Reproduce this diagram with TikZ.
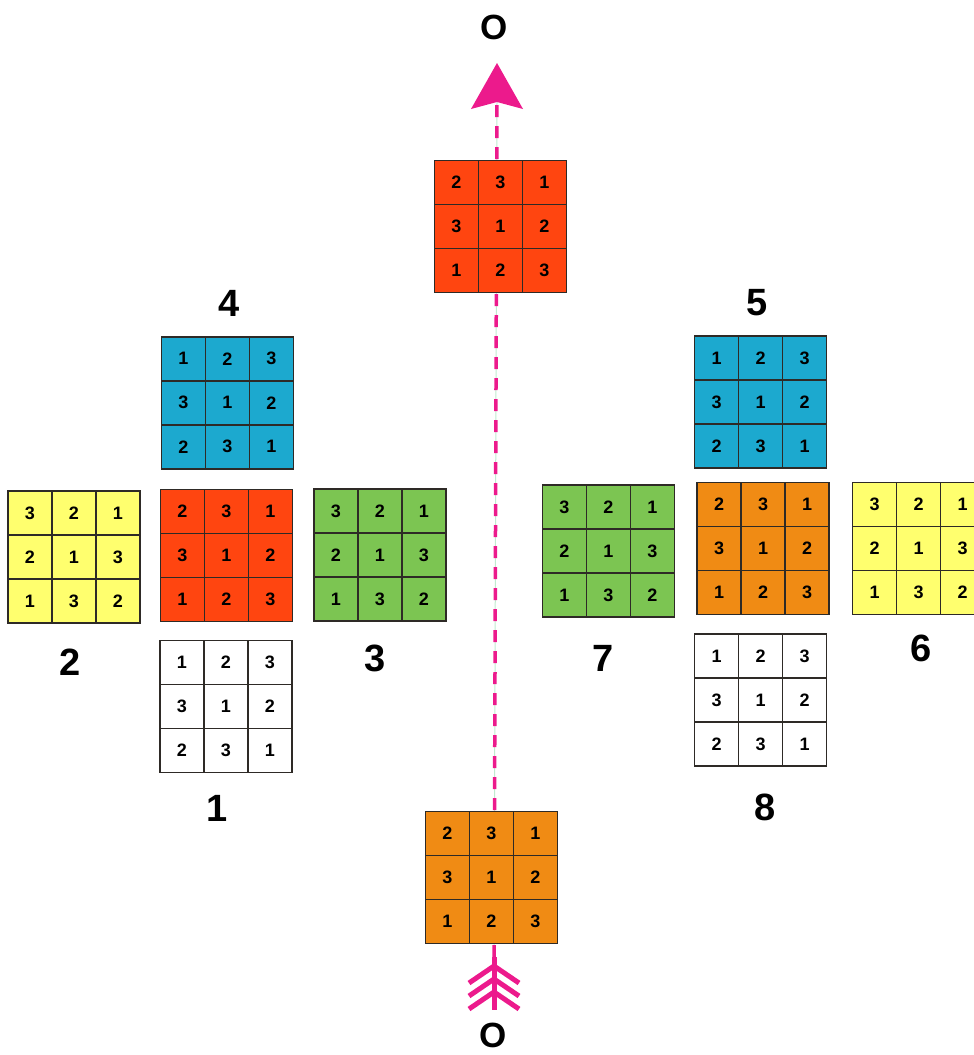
\documentclass[tikz,border=0pt]{standalone}
\usepackage{fontspec}
\setmainfont{Liberation Sans}
\usetikzlibrary{matrix}
\definecolor{cred}{HTML}{FF4510}
\definecolor{cblue}{HTML}{1CA9CF}
\definecolor{cyellow}{HTML}{FFFF6E}
\definecolor{cgreen}{HTML}{7CC552}
\definecolor{corange}{HTML}{F08B14}
\definecolor{cpink}{HTML}{EC1A8C}
\definecolor{gridline}{HTML}{2E2A26}
\definecolor{paleg}{HTML}{BFEBCF}
\tikzset{
  cell/.style={draw=gridline, line width=1.6pt, minimum size=44pt, inner sep=0pt,
    font=\bfseries\fontsize{18}{18}\selectfont, anchor=center},
  sqgrid/.style={matrix of nodes, inner sep=0pt, outer sep=0pt,
    column sep=-1.6pt, row sep=-1.6pt, nodes={cell, fill=#1}},
  biglabel/.style={font=\bfseries\fontsize{38}{38}\selectfont, inner sep=0pt},
  olabel/.style={font=\bfseries\fontsize{35}{35}\selectfont, inner sep=0pt},
  dashline/.style={draw=cpink, line width=3.5pt, dash pattern=on 12pt off 9pt},
  fletchline/.style={draw=cpink, line width=5pt, line cap=butt, line join=miter},
}
\begin{document}
\begin{tikzpicture}[x=1pt, y=-1pt]
\useasboundingbox (0,0) rectangle (974,1055);
\clip (0,0) rectangle (974,1055);

% labels
\node[olabel] (otop) at (494,27) {O};
\node[olabel] (obot) at (493,1035) {O};

% axis line
\coordinate (tail) at (494,957);
\coordinate (head) at (497,63);
\coordinate (headbase) at (497,102);
\draw[paleg, line width=1pt] (tail) -- (headbase);
\draw[dashline] (tail) -- (headbase);
\fill[cpink] (head) -- (523,109) -- (headbase) -- (471,109) -- cycle;

% fletching
\draw[fletchline] (tail) -- (494,1010);
\draw[fletchline] (469,983) -- (494,966) -- (519,983);
\draw[fletchline] (469,996) -- (494,979) -- (519,996);
\draw[fletchline] (469,1009) -- (494,992) -- (519,1009);

% grids
\matrix (gtop) [sqgrid=cred] at (500.3,226.5) {2 & 3 & 1\\ 3 & 1 & 2\\ 1 & 2 & 3\\};
\matrix (gbot) [sqgrid=corange] at (491.5,877.5) {2 & 3 & 1\\ 3 & 1 & 2\\ 1 & 2 & 3\\};

\matrix (gfour) [sqgrid=cblue] at (227.5,402.8) {1 & 2 & 3\\ 3 & 1 & 2\\ 2 & 3 & 1\\};
\matrix (gtwo) [sqgrid=cyellow] at (74,557) {3 & 2 & 1\\ 2 & 1 & 3\\ 1 & 3 & 2\\};
\matrix (gredl) [sqgrid=cred] at (226.5,555.5) {2 & 3 & 1\\ 3 & 1 & 2\\ 1 & 2 & 3\\};
\matrix (gthree) [sqgrid=cgreen] at (380,555) {3 & 2 & 1\\ 2 & 1 & 3\\ 1 & 3 & 2\\};
\matrix (gone) [sqgrid=white] at (225.8,706.3) {1 & 2 & 3\\ 3 & 1 & 2\\ 2 & 3 & 1\\};

\matrix (gfive) [sqgrid=cblue] at (760.5,402) {1 & 2 & 3\\ 3 & 1 & 2\\ 2 & 3 & 1\\};
\matrix (gseven) [sqgrid=cgreen] at (608.3,551) {3 & 2 & 1\\ 2 & 1 & 3\\ 1 & 3 & 2\\};
\matrix (goranr) [sqgrid=corange] at (763,548.5) {2 & 3 & 1\\ 3 & 1 & 2\\ 1 & 2 & 3\\};
\matrix (gsix) [sqgrid=cyellow] at (918.5,548.5) {3 & 2 & 1\\ 2 & 1 & 3\\ 1 & 3 & 2\\};
\matrix (geight) [sqgrid=white] at (760.5,700) {1 & 2 & 3\\ 3 & 1 & 2\\ 2 & 3 & 1\\};

% number labels
\node[biglabel] (lfour) at (229,303) {4};
\node[biglabel] (lfive) at (757,303) {5};
\node[biglabel] (ltwo) at (70,662) {2};
\node[biglabel] (lthree) at (375,658) {3};
\node[biglabel] (lone) at (217,808) {1};
\node[biglabel] (lseven) at (603,658) {7};
\node[biglabel] (lsix) at (921,648) {6};
\node[biglabel] (leight) at (765,807) {8};
\end{tikzpicture}
\end{document}
